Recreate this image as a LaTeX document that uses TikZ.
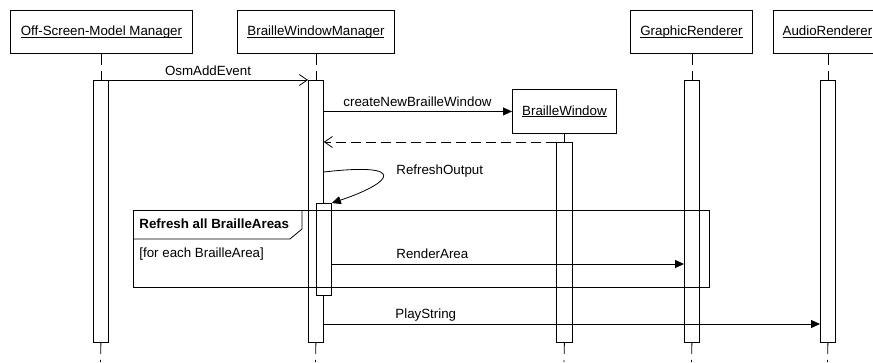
\documentclass[tikz,border=0pt]{standalone}
\usepackage{fontspec}
\setmainfont{Liberation Sans}
\usetikzlibrary{arrows.meta}
\newcommand\ulbox[1]{\setbox0\hbox{#1}\rlap{\rule[-2pt]{\wd0}{0.8pt}}\box0}
\begin{document}
\begin{tikzpicture}[x=1pt,y=-1pt,
  font=\fontsize{13.33}{16}\selectfont,
  line width=0.8pt,
  obj/.style={draw, fill=white, minimum height=43pt, inner sep=0pt, anchor=north west, line width=0.9pt},
  act/.style={draw, fill=white, minimum width=15pt, inner sep=0pt, anchor=north west},
  life/.style={dashed, dash pattern=on 11pt off 6pt},
  ret/.style={dash pattern=on 10pt off 5pt},
  openhead/.style={-{Straight Barb[length=8pt,width=11pt]}},
  fillhead/.style={-{Triangle[length=9pt,width=8pt]}},
  lbl/.style={inner sep=0pt, anchor=center},
  lft/.style={inner sep=0pt, anchor=west}
]
\useasboundingbox (0,0) rectangle (873,362);
\clip (0,0) rectangle (873,362);

% objects
\node[obj, minimum width=182pt] (osm) at (10,10) {\ulbox{Off-Screen-Model Manager}};
\node[obj, minimum width=157pt] (bwm) at (237,10) {\ulbox{BrailleWindowManager}};
\node[obj, minimum width=122pt] (gr) at (630,10) {\ulbox{GraphicRenderer}};
\node[obj, minimum width=108pt] (ar) at (773,10) {\ulbox{AudioRenderer}};
\node[obj, minimum width=104pt, minimum height=44pt] (bw) at (512,89) {\ulbox{BrailleWindow}};

% lifeline ends
\coordinate (eOSM) at (100.5,362);
\coordinate (eBWM) at (315.5,362);
\coordinate (eBW) at (564,362);
\coordinate (eGR) at (691.5,362);
\coordinate (eAR) at (827.5,362);

% activations
\node[act, minimum height=262pt] (aOSM) at (93,80) {};
\node[act, minimum height=262pt] (aBWM) at (308,80) {};
\node[act, minimum width=16pt, minimum height=200pt] (aBW) at (556,142) {};
\node[act, minimum height=262pt] (aGR) at (684,80) {};
\node[act, minimum height=262pt] (aAR) at (820,80) {};

% lifelines
\draw[life] (osm.south -| aOSM.north) -- (aOSM.north);
\draw[life] (bwm.south -| aBWM.north) -- (aBWM.north);
\draw[life] (bw.south -| aBW.north) -- (aBW.north);
\draw[life] (gr.south -| aGR.north) -- (aGR.north);
\draw[life] (ar.south -| aAR.north) -- (aAR.north);
\draw[life] (aOSM.south) -- (eOSM);
\draw[life] (aBWM.south) -- (eBWM);
\draw[life] (aBW.south) -- (eBW);
\draw[life] (aGR.south) -- (eGR);
\draw[life] (aAR.south) -- (eAR);

% nested activation
\node[act, minimum height=92pt] (aN) at (316,203) {};

% message coordinates
\coordinate (ySelf) at (0,172);
\coordinate (yRender) at (0,264);
\coordinate (yPlay) at (0,324);

% messages
\draw[openhead] (aOSM.north east) -- (aBWM.north west);
\node[lbl] (tOsm) at (208,71) {OsmAddEvent};

\draw[fillhead] (aBWM.east |- bw.west) -- (bw.west);
\node[lft] (tCreate) at (343,102) {createNewBrailleWindow};

\draw[openhead, ret] (aBW.north west) -- (aBWM.east |- aBW.north west);

\draw[fillhead] (aBWM.east |- ySelf) .. controls (410,162) and (392,183) .. (aN.north east);
\node[lft] (tRefresh) at (396,171) {RefreshOutput};

\draw[fillhead] (aN.east |- yRender) -- (aGR.west |- yRender);
\node[lft] (tRender) at (396,254) {RenderArea};

\draw[fillhead] (aBWM.east |- yPlay) -- (aAR.west |- yPlay);
\node[lft] (tPlay) at (395,315) {PlayString};

% frame
\draw (133,210) rectangle (709,287);
\draw (133,239) -- (290,239) -- (302,229) -- (302,210);
\node[lft, font=\fontsize{13.33}{16}\selectfont\bfseries] (tFrame) at (139,224) {Refresh all BrailleAreas};
\node[lft] (tGuard) at (139,254) {[for each BrailleArea]};
\end{tikzpicture}
\end{document}
